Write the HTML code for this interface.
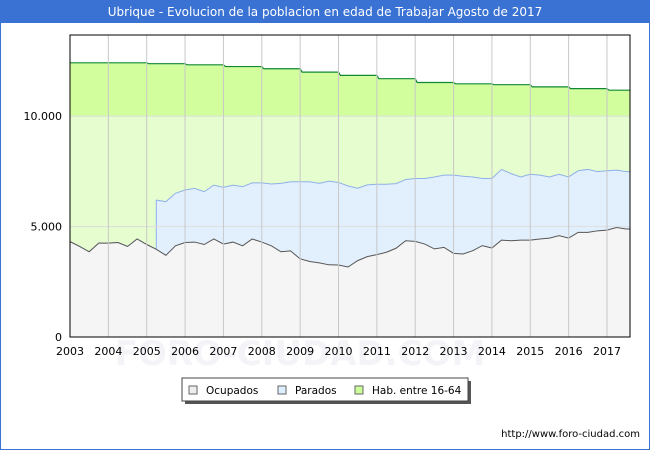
<!DOCTYPE html>
<html><head><meta charset="utf-8"><style>
body{margin:0;background:#fff;font-family:"Liberation Sans","DejaVu Sans",sans-serif}
#wrap{position:relative;width:650px;height:450px;overflow:hidden}
</style></head><body>
<div id="wrap">
<svg id="svg" width="650" height="450" viewBox="0 0 650 450" xmlns="http://www.w3.org/2000/svg">
<rect x="0.5" y="0.5" width="649" height="449" fill="#fff" stroke="#3a72d4"/>
<rect x="0" y="0" width="650" height="23" fill="#3a72d4"/>
<text x="325" y="16" text-anchor="middle" fill="#fff" font-size="12" font-family="DejaVu Sans, sans-serif">Ubrique - Evolucion de la poblacion en edad de Trabajar Agosto de 2017</text>
<text x="300" y="365" text-anchor="middle" fill="#f4f4f8" font-size="34" font-weight="bold" font-family="DejaVu Sans, sans-serif">FORO-CIUDAD.COM</text>
<g id="plot"></g>
<g>
<rect x="185" y="381" width="286" height="23" fill="#555"/>
<rect x="182" y="378" width="286" height="23" fill="#fff" stroke="#444"/>
<rect x="189" y="386" width="8" height="8" fill="#eee" stroke="#666"/>
<text x="206" y="394" font-size="10.5" font-family="DejaVu Sans, sans-serif">Ocupados</text>
<rect x="278" y="386" width="8" height="8" fill="#ddeeff" stroke="#666"/>
<text x="295" y="394" font-size="10.5" font-family="DejaVu Sans, sans-serif">Parados</text>
<rect x="355" y="386" width="8" height="8" fill="#ccff99" stroke="#666"/>
<text x="372" y="394" font-size="10.5" font-family="DejaVu Sans, sans-serif">Hab. entre 16-64</text>
</g>
<text x="640" y="437" text-anchor="end" font-size="10" font-family="DejaVu Sans, sans-serif">http://www.foro-ciudad.com</text>
</svg>
</div>
<script>
const years=[2003,2004,2005,2006,2007,2008,2009,2010,2011,2012,2013,2014,2015,2016,2017];
const habValues=[12420,12420,12380,12330,12250,12150,12000,11850,11700,11530,11470,11430,11330,11250,11180];
const ocupados=[4320,4100,3860,4250, 4250,4280,4100,4440, 4190,3970,3700,4130, 4280,4300,4190,4440, 4210,4300,4130,4440, 4300,4130,3860,3900, 3540,3420,3360,3270, 3260,3170,3460,3640, 3730,3840,4020,4360, 4330,4210,3990,4060, 3790,3760,3910,4140, 4030,4390,4360,4390, 4390,4440,4480,4590, 4480,4740,4740,4810, 4840,4960,4890];
const parados=[0,0,0,0, 0,0,0,0, 0,2230,2430,2380, 2380,2430,2390,2440, 2570,2580,2680,2540, 2680,2800,3100,3130, 3490,3610,3600,3790, 3740,3670,3280,3250, 3190,3080,2930,2770, 2850,2970,3260,3270, 3540,3520,3340,3040, 3150,3200,3040,2860, 2980,2890,2770,2780, 2770,2790,2850,2680, 2690,2600,2600];
const yTicks=[0,5000,10000];
const yTickLabels=["0","5.000","10.000"];
const startYear=2003, endYear=2017.6;
const L=70,R=630,T=35,B=337,YMAX=13680;
const X=t=>L+(t-startYear)/(endYear-startYear)*(R-L);
const Y=v=>B-v/YMAX*(B-T);
const NS="http://www.w3.org/2000/svg";
const g=document.getElementById('plot');
function mk(tag,attrs){const e=document.createElementNS(NS,tag);for(const k in attrs)e.setAttribute(k,attrs[k]);g.appendChild(e);return e;}
const tAt=i=>startYear+i*0.25;
let hp=`M${X(startYear)},${B}`;
years.forEach((yr,i)=>{const x0=X(Math.max(yr,startYear)),x1=X(Math.min(yr+1,endYear));hp+=` L${x0+(i?2:0)},${Y(habValues[i])} L${x1},${Y(habValues[i])}`;});
hp+=` L${X(endYear)},${B} Z`;
const ha=mk('path',{d:hp,fill:'#d2fe9e'});


const lb=mk('rect',{x:L,y:Y(10000),width:R-L,height:B-Y(10000),fill:'#e6fdcf'});


const hl=mk('path',{d:hp.replace(/^M[^L]*L/,'M').replace(/ L[^L]*Z$/,''),fill:'none',stroke:'#118833','stroke-width':1.2});


const n=ocupados.length;
const tx=i=>Math.min(X(tAt(i)),R);
let tp='',op='',started=false;
for(let i=0;i<n;i++){
  if(parados[i]>0&&!started){started=true;tp+=(tp?' L':'M')+tx(i)+','+Y(ocupados[i]);}
  tp+=(tp?' L':'M')+tx(i)+','+Y(ocupados[i]+parados[i]);
  op+=(i?' L':'M')+tx(i)+','+Y(ocupados[i]);
}
tp+=` L${R},${Y(ocupados[n-1]+parados[n-1])}`;op+=` L${R},${Y(ocupados[n-1])}`;
const pa=mk('path',{d:tp+` L${R},${B} L${L},${B} Z`,fill:'#e2f0fe'});


const pl=mk('path',{d:tp,fill:'none',stroke:'#8fb0e8','stroke-width':1});


const oa=mk('path',{d:op+` L${R},${B} L${L},${B} Z`,fill:'#f5f5f5'});


const ol=mk('path',{d:op,fill:'none',stroke:'#555','stroke-width':1});


yTicks.forEach((v,i)=>{
 if(v>0){const gl=mk('line',{x1:L,x2:R,y1:Y(v),y2:Y(v),stroke:'#ddd'});
 
 }
 const t=mk('text',{x:62,y:Y(v)+4,'text-anchor':'end','font-size':11,'font-family':'DejaVu Sans, sans-serif'});t.textContent=yTickLabels[i];
 
 
});
years.forEach(yr=>{
 if(yr>startYear){const gl=mk('line',{x1:X(yr),x2:X(yr),y1:T,y2:B,stroke:'#c8c8c8'});
 
 }
 const t=mk('text',{x:X(yr),y:355,'text-anchor':'middle','font-size':11,'font-family':'DejaVu Sans, sans-serif'});t.textContent=yr;
 
 
});
const fr=mk('rect',{x:L,y:T,width:R-L,height:B-T,fill:'none',stroke:'#000','stroke-width':1});


</script>
</body></html>
